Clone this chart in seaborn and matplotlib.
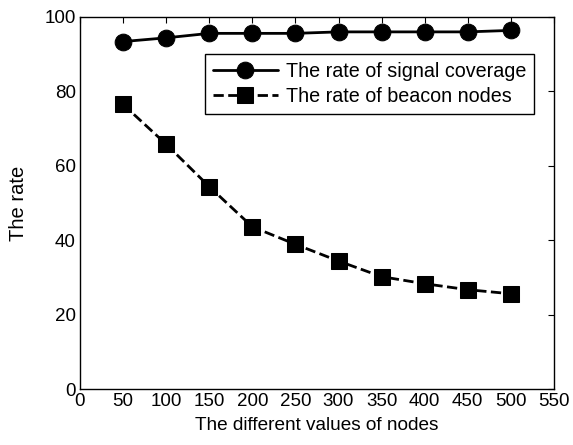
import matplotlib
matplotlib.use("Agg")
import matplotlib.pyplot as plt
import seaborn as sns
import pandas as pd

nodes = [50, 100, 150, 200, 250, 300, 350, 400, 450, 500]
signal_coverage = [93.4, 94.4, 95.6, 95.6, 95.6, 96.0, 96.0, 96.0, 96.0, 96.4]
beacon_nodes = [76.5, 65.8, 54.4, 43.6, 38.9, 34.4, 30.2, 28.3, 26.7, 25.6]
x_ticks = [0, 50, 100, 150, 200, 250, 300, 350, 400, 450, 500, 550]
y_ticks = [0, 20, 40, 60, 80, 100]

sns.set_style("white")
plt.rcParams["font.family"] = ["Liberation Sans", "DejaVu Sans"]
plt.rcParams["font.size"] = 13.5
plt.rcParams["text.color"] = "black"
plt.rcParams["axes.labelcolor"] = "black"

df = pd.DataFrame({"nodes": nodes, "signal": signal_coverage, "beacon": beacon_nodes})

fig = plt.figure(figsize=(5.73, 4.45), dpi=100)
ax = fig.add_axes([0.1396, 0.1258, 0.8272, 0.836])

sns.lineplot(data=df, x="nodes", y="signal", ax=ax, color="black", linewidth=2.0,
             marker="o", markersize=12, markeredgecolor="black",
             label="The rate of signal coverage")
sns.lineplot(data=df, x="nodes", y="beacon", ax=ax, color="black", linewidth=2.0,
             linestyle="--", marker="s", markersize=11, markeredgecolor="black",
             label="The rate of beacon nodes")

ax.set_xlim(0, 550)
ax.set_ylim(0, 100)
ax.set_xticks(x_ticks)
ax.set_yticks(y_ticks)
ax.set_xlabel("The different values of nodes", fontsize=13.7, labelpad=5, color="black")
ax.set_ylabel("The rate", fontsize=14.5, labelpad=12, color="black")
ax.tick_params(direction="in", top=True, right=True, length=4.5, width=0.8,
               labelsize=13.5, colors="black", pad=3)
for s in ax.spines.values():
    s.set_visible(True)
    s.set_color("black")
    s.set_linewidth(1.0)

leg = ax.legend(loc="upper right", bbox_to_anchor=(0.958, 0.9005), borderaxespad=0,
                fancybox=False, framealpha=1, edgecolor="black", fontsize=14.2,
                borderpad=0.4, handlelength=3.3, handletextpad=0.4,
                labelspacing=0.3)
leg.get_frame().set_linewidth(1.0)
for t in leg.get_texts():
    t.set_color("black")

fig.savefig("out.png", dpi=100)
